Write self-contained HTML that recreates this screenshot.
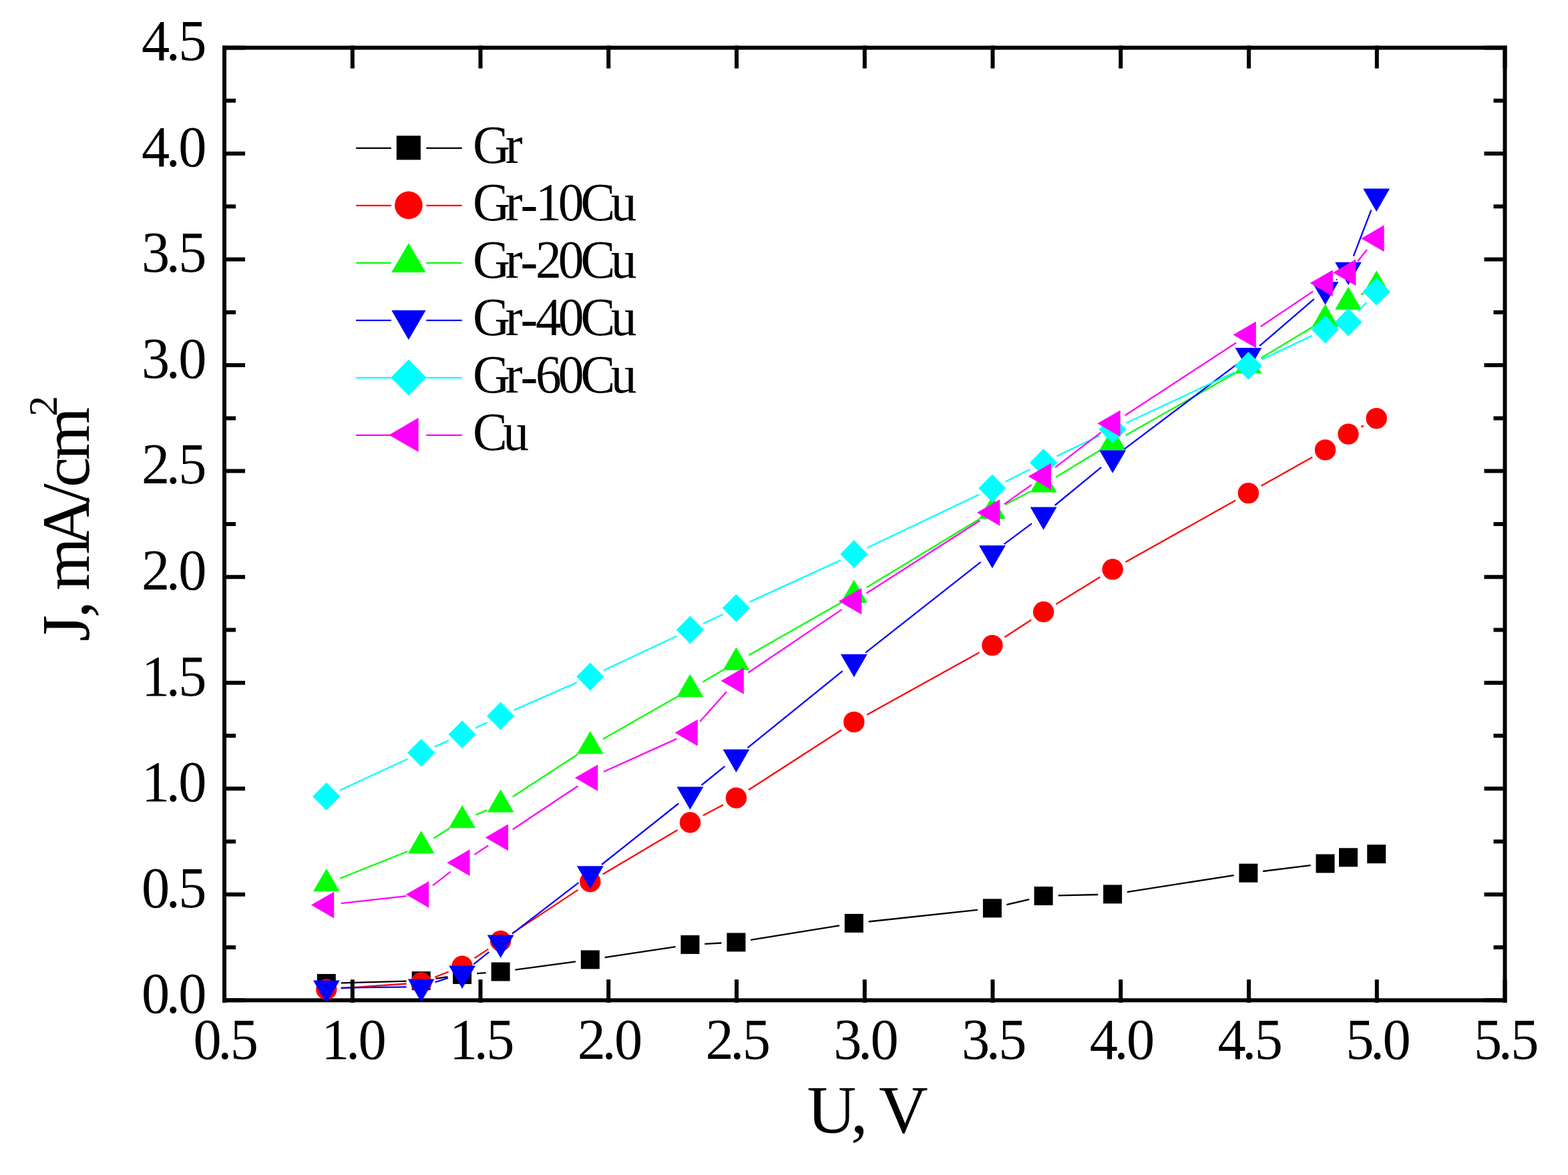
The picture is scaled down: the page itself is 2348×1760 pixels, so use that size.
<!DOCTYPE html>
<html lang="en">
<head>
<meta charset="utf-8">
<title>J-U characteristics</title>
<style>
html,body{margin:0;padding:0;background:#fff;}
body{width:2348px;height:1760px;}
svg{display:block;}
text{font-family:"Liberation Serif",serif;fill:#000;}
</style>
</head>
<body>
<svg width="2348" height="1760" viewBox="0 0 2348 1760">
<rect x="0" y="0" width="2348" height="1760" fill="#ffffff"/>
<rect x="336.0" y="71.5" width="1917.5" height="1426.8" fill="none" stroke="#000" stroke-width="6.0"/>
<defs><clipPath id="plotclip"><rect x="336.0" y="71.5" width="1917.5" height="1427.8"/></clipPath></defs>
<g clip-path="url(#plotclip)">
<path d="M510.8 1472.3L608.7 1469.7M652.5 1465.9L670.3 1463.2M714.0 1458.2L727.6 1457.2M771.4 1452.6L862.0 1440.4M905.6 1434.1L1011.6 1418.2M1055.3 1413.8L1080.4 1412.5M1124.1 1407.9L1257.1 1386.4M1300.7 1380.5L1464.0 1362.8M1507.3 1355.2L1541.2 1347.1M1584.6 1341.4L1644.2 1340.0M1687.9 1336.1L1847.7 1311.1M1891.2 1305.0L1962.6 1296.2" stroke="#000000" stroke-width="2.3" fill="none"/>
<rect x="474.8" y="1458.9" width="28.0" height="28.0" fill="#000000"/>
<rect x="616.7" y="1455.1" width="28.0" height="28.0" fill="#000000"/>
<rect x="678.1" y="1445.9" width="28.0" height="28.0" fill="#000000"/>
<rect x="735.6" y="1441.5" width="28.0" height="28.0" fill="#000000"/>
<rect x="869.8" y="1423.4" width="28.0" height="28.0" fill="#000000"/>
<rect x="1019.4" y="1400.9" width="28.0" height="28.0" fill="#000000"/>
<rect x="1088.4" y="1397.4" width="28.0" height="28.0" fill="#000000"/>
<rect x="1264.8" y="1368.9" width="28.0" height="28.0" fill="#000000"/>
<rect x="1471.9" y="1346.4" width="28.0" height="28.0" fill="#000000"/>
<rect x="1548.6" y="1328.0" width="28.0" height="28.0" fill="#000000"/>
<rect x="1652.1" y="1325.4" width="28.0" height="28.0" fill="#000000"/>
<rect x="1855.4" y="1293.7" width="28.0" height="28.0" fill="#000000"/>
<rect x="1970.5" y="1279.5" width="28.0" height="28.0" fill="#000000"/>
<rect x="2005.0" y="1270.3" width="28.0" height="28.0" fill="#000000"/>
<rect x="2047.2" y="1265.2" width="28.0" height="28.0" fill="#000000"/>
</g>
<g clip-path="url(#plotclip)">
<path d="M510.7 1480.4L608.7 1473.5M651.1 1463.8L671.7 1455.5M710.5 1435.2L731.2 1421.6M767.9 1397.4L865.5 1332.9M902.7 1309.5L1014.5 1243.2M1052.8 1221.6L1083.0 1205.5M1120.9 1183.3L1260.3 1093.3M1298.1 1070.7L1466.7 977.2M1504.3 954.5L1544.2 928.5M1581.3 905.0L1647.4 864.3M1685.3 842.0L1850.2 749.4M1888.6 727.8L1965.3 684.7M2038.2 639.5L2041.9 637.4" stroke="#ff0000" stroke-width="2.3" fill="none"/>
<circle cx="488.8" cy="1482.0" r="15.7" fill="#ff0000"/>
<circle cx="630.7" cy="1472.0" r="15.7" fill="#ff0000"/>
<circle cx="692.1" cy="1447.3" r="15.7" fill="#ff0000"/>
<circle cx="749.6" cy="1409.5" r="15.7" fill="#ff0000"/>
<circle cx="883.8" cy="1320.7" r="15.7" fill="#ff0000"/>
<circle cx="1033.4" cy="1232.0" r="15.7" fill="#ff0000"/>
<circle cx="1102.4" cy="1195.2" r="15.7" fill="#ff0000"/>
<circle cx="1278.8" cy="1081.4" r="15.7" fill="#ff0000"/>
<circle cx="1485.9" cy="966.6" r="15.7" fill="#ff0000"/>
<circle cx="1562.6" cy="916.5" r="15.7" fill="#ff0000"/>
<circle cx="1666.1" cy="852.8" r="15.7" fill="#ff0000"/>
<circle cx="1869.4" cy="738.6" r="15.7" fill="#ff0000"/>
<circle cx="1984.5" cy="673.9" r="15.7" fill="#ff0000"/>
<circle cx="2019.0" cy="650.1" r="15.7" fill="#ff0000"/>
<circle cx="2061.2" cy="626.7" r="15.7" fill="#ff0000"/>
</g>
<g clip-path="url(#plotclip)">
<path d="M509.2 1315.7L610.3 1275.3M649.3 1255.5L673.4 1240.5M712.4 1220.5L729.2 1213.6M768.0 1193.3L865.4 1129.8M902.9 1106.9L1014.3 1043.4M1052.4 1021.4L1083.4 1003.3M1121.5 981.3L1259.7 902.4M1297.6 880.0L1467.1 777.3M1505.4 755.7L1543.1 736.1M1581.4 714.5L1647.3 674.6M1685.3 652.3L1850.3 558.6M1888.2 536.4L1965.6 489.7M2038.1 441.4L2042.0 439.1" stroke="#00ff00" stroke-width="2.3" fill="none"/>
<polygon points="488.8,1301.0 468.9,1335.3 508.7,1335.3" fill="#00ff00"/>
<polygon points="630.7,1244.3 610.8,1278.6 650.6,1278.6" fill="#00ff00"/>
<polygon points="692.1,1205.9 672.2,1240.2 712.0,1240.2" fill="#00ff00"/>
<polygon points="749.6,1182.5 729.7,1216.8 769.5,1216.8" fill="#00ff00"/>
<polygon points="883.8,1095.0 863.9,1129.3 903.7,1129.3" fill="#00ff00"/>
<polygon points="1033.4,1009.7 1013.5,1044.0 1053.3,1044.0" fill="#00ff00"/>
<polygon points="1102.4,969.4 1082.5,1003.7 1122.3,1003.7" fill="#00ff00"/>
<polygon points="1278.8,868.6 1258.9,902.9 1298.7,902.9" fill="#00ff00"/>
<polygon points="1485.9,743.0 1466.0,777.3 1505.8,777.3" fill="#00ff00"/>
<polygon points="1562.6,703.1 1542.7,737.4 1582.5,737.4" fill="#00ff00"/>
<polygon points="1666.1,640.3 1646.2,674.6 1686.0,674.6" fill="#00ff00"/>
<polygon points="1869.4,524.9 1849.5,559.2 1889.3,559.2" fill="#00ff00"/>
<polygon points="1984.5,455.4 1964.5,489.7 2004.4,489.7" fill="#00ff00"/>
<polygon points="2019.0,429.4 1999.1,463.7 2038.9,463.7" fill="#00ff00"/>
<polygon points="2061.2,405.3 2041.2,439.6 2081.1,439.6" fill="#00ff00"/>
</g>
<g clip-path="url(#plotclip)">
<path d="M510.8 1479.6L608.7 1478.3M651.6 1471.2L671.1 1464.8M709.2 1444.3L732.4 1425.8M767.0 1398.6L866.4 1322.1M901.0 1295.0L1016.1 1203.5M1050.5 1176.0L1085.3 1147.8M1119.5 1120.2L1261.7 1005.1M1296.1 977.7L1468.6 841.9M1503.5 815.2L1545.0 784.1M1579.6 757.0L1649.1 699.9M1683.7 672.7L1851.8 545.8M1886.1 518.2L1967.8 447.9M2001.2 419.3L2002.2 418.4M2026.8 383.6L2053.3 314.6" stroke="#0000ff" stroke-width="2.3" fill="none"/>
<polygon points="488.8,1502.8 468.9,1468.5 508.7,1468.5" fill="#0000ff"/>
<polygon points="630.7,1500.9 610.8,1466.6 650.6,1466.6" fill="#0000ff"/>
<polygon points="692.1,1480.9 672.2,1446.6 712.0,1446.6" fill="#0000ff"/>
<polygon points="749.6,1434.9 729.7,1400.6 769.5,1400.6" fill="#0000ff"/>
<polygon points="883.8,1331.6 863.9,1297.3 903.7,1297.3" fill="#0000ff"/>
<polygon points="1033.4,1212.7 1013.5,1178.4 1053.3,1178.4" fill="#0000ff"/>
<polygon points="1102.4,1156.9 1082.5,1122.6 1122.3,1122.6" fill="#0000ff"/>
<polygon points="1278.8,1014.2 1258.9,979.9 1298.7,979.9" fill="#0000ff"/>
<polygon points="1485.9,851.2 1466.0,816.9 1505.8,816.9" fill="#0000ff"/>
<polygon points="1562.6,793.8 1542.7,759.5 1582.5,759.5" fill="#0000ff"/>
<polygon points="1666.1,708.8 1646.2,674.5 1686.0,674.5" fill="#0000ff"/>
<polygon points="1869.4,555.4 1849.5,521.1 1889.3,521.1" fill="#0000ff"/>
<polygon points="1984.5,456.5 1964.5,422.2 2004.4,422.2" fill="#0000ff"/>
<polygon points="2019.0,427.0 1999.1,392.7 2038.9,392.7" fill="#0000ff"/>
<polygon points="2061.2,316.9 2041.2,282.6 2081.1,282.6" fill="#0000ff"/>
</g>
<g clip-path="url(#plotclip)">
<path d="M508.8 1183.8L610.7 1136.8M650.8 1118.6L672.0 1109.1M711.9 1090.6L729.7 1082.0M769.7 1063.6L863.7 1022.4M903.7 1004.2L1013.4 952.8M1053.3 934.0L1082.5 920.2M1122.4 901.6L1258.8 839.1M1298.7 820.5L1466.0 740.8M1505.6 721.5L1542.9 702.8M1582.4 683.4L1646.3 652.7M1686.1 633.8L1849.5 557.4M1889.3 538.6L1964.6 502.9M2033.8 466.5L2046.3 453.0" stroke="#00ffff" stroke-width="2.3" fill="none"/>
<polygon points="488.8,1172.1 509.4,1193.0 488.8,1213.9 468.2,1193.0" fill="#00ffff"/>
<polygon points="630.7,1106.7 651.3,1127.6 630.7,1148.6 610.1,1127.6" fill="#00ffff"/>
<polygon points="692.1,1079.2 712.7,1100.1 692.1,1121.0 671.5,1100.1" fill="#00ffff"/>
<polygon points="749.6,1051.6 770.2,1072.5 749.6,1093.4 729.0,1072.5" fill="#00ffff"/>
<polygon points="883.8,992.6 904.4,1013.5 883.8,1034.4 863.2,1013.5" fill="#00ffff"/>
<polygon points="1033.4,922.5 1054.0,943.4 1033.4,964.3 1012.8,943.4" fill="#00ffff"/>
<polygon points="1102.4,889.9 1123.0,910.8 1102.4,931.7 1081.8,910.8" fill="#00ffff"/>
<polygon points="1278.8,809.0 1299.4,829.9 1278.8,850.8 1258.2,829.9" fill="#00ffff"/>
<polygon points="1485.9,710.4 1506.5,731.3 1485.9,752.2 1465.3,731.3" fill="#00ffff"/>
<polygon points="1562.6,672.0 1583.2,693.0 1562.6,713.9 1542.0,693.0" fill="#00ffff"/>
<polygon points="1666.1,622.3 1686.7,643.2 1666.1,664.1 1645.5,643.2" fill="#00ffff"/>
<polygon points="1869.4,527.1 1890.0,548.1 1869.4,569.0 1848.8,548.1" fill="#00ffff"/>
<polygon points="1984.5,472.6 2005.0,493.5 1984.5,514.4 1963.9,493.5" fill="#00ffff"/>
<polygon points="2019.0,461.8 2039.6,482.7 2019.0,503.6 1998.4,482.7" fill="#00ffff"/>
<polygon points="2061.2,415.9 2081.8,436.8 2061.2,457.7 2040.6,436.8" fill="#00ffff"/>
</g>
<g clip-path="url(#plotclip)">
<path d="M510.7 1353.2L608.8 1342.2M648.1 1326.3L674.7 1305.7M710.5 1280.1L731.2 1266.5M767.9 1242.3L865.5 1177.3M903.9 1156.0L1013.3 1106.6M1048.0 1081.1L1087.8 1036.3M1120.6 1007.5L1260.6 912.9M1297.3 888.8L1467.4 779.7M1503.9 755.1L1544.6 726.3M1580.1 700.2L1648.7 647.7M1684.6 622.3L1851.0 513.5M1887.7 489.2L1966.2 436.4M2033.0 391.3L2047.1 374.1" stroke="#ff00ff" stroke-width="2.3" fill="none"/>
<polygon points="465.9,1355.6 500.2,1335.7 500.2,1375.5" fill="#ff00ff"/>
<polygon points="607.8,1339.8 642.1,1319.9 642.1,1359.7" fill="#ff00ff"/>
<polygon points="669.2,1292.2 703.5,1272.3 703.5,1312.1" fill="#ff00ff"/>
<polygon points="726.7,1254.5 761.0,1234.6 761.0,1274.4" fill="#ff00ff"/>
<polygon points="860.9,1165.1 895.2,1145.2 895.2,1185.0" fill="#ff00ff"/>
<polygon points="1010.5,1097.5 1044.8,1077.6 1044.8,1117.4" fill="#ff00ff"/>
<polygon points="1079.5,1019.8 1113.8,999.9 1113.8,1039.7" fill="#ff00ff"/>
<polygon points="1255.9,900.6 1290.2,880.7 1290.2,920.5" fill="#ff00ff"/>
<polygon points="1463.0,767.8 1497.3,747.9 1497.3,787.7" fill="#ff00ff"/>
<polygon points="1539.7,713.6 1574.0,693.7 1574.0,733.5" fill="#ff00ff"/>
<polygon points="1643.3,634.3 1677.6,614.4 1677.6,654.2" fill="#ff00ff"/>
<polygon points="1846.5,501.4 1880.8,481.5 1880.8,521.3" fill="#ff00ff"/>
<polygon points="1961.6,424.1 1995.9,404.2 1995.9,444.0" fill="#ff00ff"/>
<polygon points="1996.1,408.2 2030.4,388.3 2030.4,428.1" fill="#ff00ff"/>
<polygon points="2038.3,357.2 2072.6,337.3 2072.6,377.1" fill="#ff00ff"/>
</g>
<path d="M336.0 1501.9V1467.3M336.0 68.3V102.5M527.8 1501.9V1467.3M527.8 68.3V102.5M719.5 1501.9V1467.3M719.5 68.3V102.5M911.2 1501.9V1467.3M911.2 68.3V102.5M1103.0 1501.9V1467.3M1103.0 68.3V102.5M1294.8 1501.9V1467.3M1294.8 68.3V102.5M1486.5 1501.9V1467.3M1486.5 68.3V102.5M1678.2 1501.9V1467.3M1678.2 68.3V102.5M1870.0 1501.9V1467.3M1870.0 68.3V102.5M2061.8 1501.9V1467.3M2061.8 68.3V102.5M2253.5 1501.9V1467.3M2253.5 68.3V102.5M336.0 1498.3H367.0M2253.5 1498.3H2222.5M336.0 1419.0H353.0M2253.5 1419.0H2236.5M336.0 1339.8H367.0M2253.5 1339.8H2222.5M336.0 1260.5H353.0M2253.5 1260.5H2236.5M336.0 1181.2H367.0M2253.5 1181.2H2222.5M336.0 1102.0H353.0M2253.5 1102.0H2236.5M336.0 1022.7H367.0M2253.5 1022.7H2222.5M336.0 943.4H353.0M2253.5 943.4H2236.5M336.0 864.2H367.0M2253.5 864.2H2222.5M336.0 784.9H353.0M2253.5 784.9H2236.5M336.0 705.6H367.0M2253.5 705.6H2222.5M336.0 626.4H353.0M2253.5 626.4H2236.5M336.0 547.1H367.0M2253.5 547.1H2222.5M336.0 467.8H353.0M2253.5 467.8H2236.5M336.0 388.6H367.0M2253.5 388.6H2222.5M336.0 309.3H353.0M2253.5 309.3H2236.5M336.0 230.0H367.0M2253.5 230.0H2222.5M336.0 150.8H353.0M2253.5 150.8H2236.5M336.0 71.5H367.0M2253.5 71.5H2222.5" stroke="#000" stroke-width="6.0" fill="none"/>
<text transform="translate(289.54 1586.00) scale(0.97 1)" x="0.00 37.90 56.85" y="0" font-size="87">0.5</text>
<text transform="translate(481.29 1586.00) scale(0.97 1)" x="0.00 37.90 56.85" y="0" font-size="87">1.0</text>
<text transform="translate(673.04 1586.00) scale(0.97 1)" x="0.00 37.90 56.85" y="0" font-size="87">1.5</text>
<text transform="translate(864.79 1586.00) scale(0.97 1)" x="0.00 37.90 56.85" y="0" font-size="87">2.0</text>
<text transform="translate(1056.54 1586.00) scale(0.97 1)" x="0.00 37.90 56.85" y="0" font-size="87">2.5</text>
<text transform="translate(1248.29 1586.00) scale(0.97 1)" x="0.00 37.90 56.85" y="0" font-size="87">3.0</text>
<text transform="translate(1440.04 1586.00) scale(0.97 1)" x="0.00 37.90 56.85" y="0" font-size="87">3.5</text>
<text transform="translate(1631.79 1586.00) scale(0.97 1)" x="0.00 37.90 56.85" y="0" font-size="87">4.0</text>
<text transform="translate(1823.54 1586.00) scale(0.97 1)" x="0.00 37.90 56.85" y="0" font-size="87">4.5</text>
<text transform="translate(2015.29 1586.00) scale(0.97 1)" x="0.00 37.90 56.85" y="0" font-size="87">5.0</text>
<text transform="translate(2207.04 1586.00) scale(0.97 1)" x="0.00 37.90 56.85" y="0" font-size="87">5.5</text>
<text transform="translate(212.00 1517.10) scale(0.97 1)" x="0.00 37.90 56.85" y="0" font-size="87">0.0</text>
<text transform="translate(212.00 1358.57) scale(0.97 1)" x="0.00 37.90 56.85" y="0" font-size="87">0.5</text>
<text transform="translate(212.00 1200.03) scale(0.97 1)" x="0.00 37.90 56.85" y="0" font-size="87">1.0</text>
<text transform="translate(212.00 1041.50) scale(0.97 1)" x="0.00 37.90 56.85" y="0" font-size="87">1.5</text>
<text transform="translate(212.00 882.97) scale(0.97 1)" x="0.00 37.90 56.85" y="0" font-size="87">2.0</text>
<text transform="translate(212.00 724.43) scale(0.97 1)" x="0.00 37.90 56.85" y="0" font-size="87">2.5</text>
<text transform="translate(212.00 565.90) scale(0.97 1)" x="0.00 37.90 56.85" y="0" font-size="87">3.0</text>
<text transform="translate(212.00 407.37) scale(0.97 1)" x="0.00 37.90 56.85" y="0" font-size="87">3.5</text>
<text transform="translate(212.00 248.83) scale(0.97 1)" x="0.00 37.90 56.85" y="0" font-size="87">4.0</text>
<text transform="translate(212.00 90.30) scale(0.97 1)" x="0.00 37.90 56.85" y="0" font-size="87">4.5</text>
<text transform="translate(1208.60 1697.20) scale(1.0 1)" x="0.00 65.48 85.45 107.43" y="0" font-size="102">U, V</text>
<text transform="translate(132.8 961.0) rotate(-90) scale(1.0 1)" x="0.00 35.61 54.58 76.56 142.53 208.41 231.03 271.84" y="0" font-size="102">J, mA/cm<tspan x="337.30" y="-47.60" font-size="62">2</tspan></text>
<path d="M533.2 221.8H585.9M638.3 221.8H691.7" stroke="#000000" stroke-width="2.3" fill="none"/>
<rect x="593.8" y="203.3" width="36.1" height="36.1" fill="#000000"/>
<text transform="translate(708.00 244.10) scale(0.97 1)" x="0.00 50.39" y="0.0 0.0" font-size="80">Gr</text>
<path d="M533.2 307.8H585.9M638.3 307.8H691.7" stroke="#ff0000" stroke-width="2.3" fill="none"/>
<circle cx="611.9" cy="307.4" r="20.8" fill="#ff0000"/>
<text transform="translate(708.00 330.10) scale(0.97 1)" x="0.00 50.39 73.62 96.86 131.74 166.63 213.17" y="0.0 0.0 1.9 0.0 0.0 0.0 0.0" font-size="80">Gr-10Cu</text>
<path d="M533.2 393.8H585.9M638.3 393.8H691.7" stroke="#00ff00" stroke-width="2.3" fill="none"/>
<polygon points="611.9,363.9 586.2,408.1 637.6,408.1" fill="#00ff00"/>
<text transform="translate(708.00 416.10) scale(0.97 1)" x="0.00 50.39 73.62 96.86 131.74 166.63 213.17" y="0.0 0.0 1.9 0.0 0.0 0.0 0.0" font-size="80">Gr-20Cu</text>
<path d="M533.2 479.8H585.9M638.3 479.8H691.7" stroke="#0000ff" stroke-width="2.3" fill="none"/>
<polygon points="611.9,508.9 586.2,464.7 637.6,464.7" fill="#0000ff"/>
<text transform="translate(708.00 502.10) scale(0.97 1)" x="0.00 50.39 73.62 96.86 131.74 166.63 213.17" y="0.0 0.0 1.9 0.0 0.0 0.0 0.0" font-size="80">Gr-40Cu</text>
<path d="M533.2 565.8H585.9M638.3 565.8H691.7" stroke="#00ffff" stroke-width="2.3" fill="none"/>
<polygon points="611.9,538.4 638.5,565.4 611.9,592.4 585.3,565.4" fill="#00ffff"/>
<text transform="translate(708.00 588.10) scale(0.97 1)" x="0.00 50.39 73.62 96.86 131.74 166.63 213.17" y="0.0 0.0 1.9 0.0 0.0 0.0 0.0" font-size="80">Gr-60Cu</text>
<path d="M533.2 651.8H585.9M638.3 651.8H691.7" stroke="#ff00ff" stroke-width="2.3" fill="none"/>
<polygon points="582.4,651.4 626.6,625.7 626.6,677.1" fill="#ff00ff"/>
<text transform="translate(708.00 674.10) scale(0.97 1)" x="0.00 46.54" y="0.0 0.0" font-size="80">Cu</text>
</svg>
</body>
</html>
